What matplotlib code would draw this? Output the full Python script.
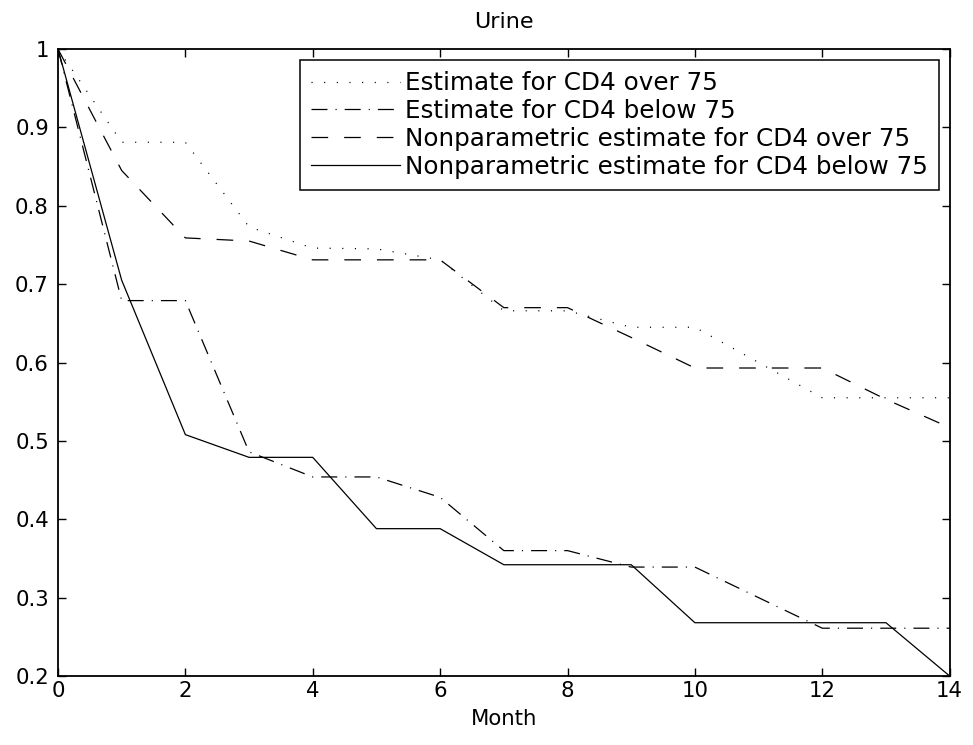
import matplotlib
matplotlib.use("Agg")
import matplotlib.pyplot as plt

plt.rcParams['font.family'] = ['DejaVu Sans']
plt.rcParams['lines.scale_dashes'] = False

months = list(range(15))
est_over = [1.0, 0.881, 0.881, 0.773, 0.746, 0.745, 0.731, 0.666, 0.666, 0.645, 0.645, 0.600, 0.555, 0.555, 0.555]
est_below = [1.0, 0.679, 0.679, 0.486, 0.454, 0.454, 0.428, 0.360, 0.360, 0.339, 0.339, 0.300, 0.261, 0.261, 0.261]
np_over = [1.0, 0.845, 0.759, 0.755, 0.731, 0.731, 0.731, 0.670, 0.670, 0.632, 0.593, 0.593, 0.593, 0.553, 0.517]
np_below = [1.0, 0.705, 0.508, 0.479, 0.479, 0.388, 0.388, 0.342, 0.342, 0.342, 0.268, 0.268, 0.268, 0.268, 0.200]

labels = ["Estimate for CD4 over 75", "Estimate for CD4 below 75",
          "Nonparametric estimate for CD4 over 75", "Nonparametric estimate for CD4 below 75"]
xticks = [0, 2, 4, 6, 8, 10, 12, 14]
yticks = [0.2, 0.3, 0.4, 0.5, 0.6, 0.7, 0.8, 0.9, 1.0]
ytick_labels = ['0.2', '0.3', '0.4', '0.5', '0.6', '0.7', '0.8', '0.9', '1']

fig = plt.figure(figsize=(9.73, 7.45), dpi=100)
ax = fig.add_axes([0.0596, 0.0926, 0.9164, 0.8416])

lw = 0.9
ax.plot(months, est_over, color='black', lw=lw, linestyle=(0, (0.8, 8.3)), label=labels[0])
ax.plot(months, est_below, color='black', lw=lw, linestyle=(0, (11.5, 5.8, 0.8, 5.8)), label=labels[1])
ax.plot(months, np_over, color='black', lw=lw, linestyle=(0, (12, 11.5)), label=labels[2])
ax.plot(months, np_below, color='black', lw=lw, linestyle='-', label=labels[3])

ax.set_xlim(0, 14)
ax.set_ylim(0.2, 1.0)
ax.set_xticks(xticks)
ax.set_yticks(yticks)
ax.set_yticklabels(ytick_labels)
ax.tick_params(direction='in', length=6, width=1, labelsize=15.3, top=True, right=True)
ax.tick_params(axis='y', pad=6.5)
ax.tick_params(axis='x', pad=3.5)
for s in ax.spines.values():
    s.set_linewidth(1.3)
ax.set_title("Urine", fontsize=16, pad=15)
ax.set_xlabel("Month", fontsize=15.3, labelpad=6)

leg = ax.legend(loc='upper right', fontsize=17.7, frameon=True, fancybox=False,
                edgecolor='black', framealpha=1, handlelength=3.6, handletextpad=0.2,
                borderaxespad=0.45, labelspacing=0.16, borderpad=0.45)
leg.get_frame().set_linewidth(1.1)

fig.savefig("out.png", dpi=100)
